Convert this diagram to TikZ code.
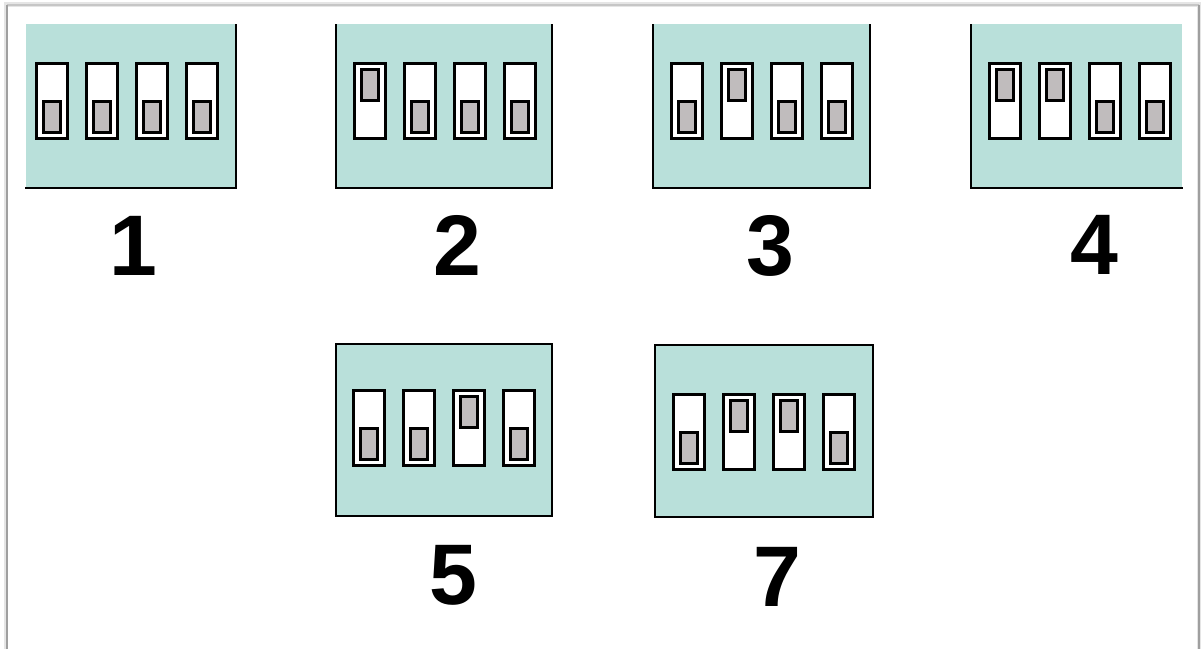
\documentclass[tikz,border=0pt]{standalone}
\usepackage{fontspec}
\setmainfont{Liberation Sans}
\definecolor{panelteal}{RGB}{185,224,218}
\definecolor{knobgray}{RGB}{192,188,189}
\newcommand\swup[2]{%
  \draw[swbody] (#1+1.6,#2+1.6) rectangle (#1+32.4,#2+76.4);
  \draw[knob] (#1+8.4,#2+7.4) rectangle (#1+25.6,#2+38.6);}
\newcommand\swdn[2]{%
  \draw[swbody] (#1+1.6,#2+1.6) rectangle (#1+32.4,#2+76.4);
  \draw[knob] (#1+8.4,#2+39.4) rectangle (#1+25.6,#2+70.6);}
\begin{document}
\begin{tikzpicture}[x=1pt,y=-1pt,
  swbody/.style={draw=black,line width=3.2pt,fill=white},
  knob/.style={draw=black,line width=2.9pt,fill=knobgray},
  panelfill/.style={fill=panelteal},
  paneledge/.style={draw=black,line width=2.7pt,line cap=rect},
  num/.style={font=\bfseries\fontsize{86}{86}\selectfont,inner sep=0pt,anchor=base},
  frameline/.style={draw=gray!75,line width=1.6pt},
  frameshadow/.style={draw=gray!20,line width=4.5pt}]
\useasboundingbox (0,0) rectangle (1201,649);
\fill[white] (0,0) rectangle (1201,649);
% outer frame
\draw[frameshadow] (6,649) -- (6,4.5) -- (1199.5,4.5) -- (1199.5,649);
\draw[frameline,draw=gray!45] (7,5) -- (1199,5);
\draw[frameline] (7,649) -- (7,5);
\draw[frameline] (1199,5) -- (1199,649);
% panel 1
\fill[panelfill] (26,24) rectangle (237,189);
\draw[paneledge] (236,25) -- (236,188) -- (26,188);
\swdn{35}{62}\swdn{85}{62}\swdn{135}{62}\swdn{185}{62}
% panel 2
\fill[panelfill] (335,24) rectangle (553,189);
\draw[paneledge] (336,25) -- (336,188) -- (552,188) -- (552,25);
\swup{353}{62}\swdn{403}{62}\swdn{453}{62}\swdn{503}{62}
% panel 3
\fill[panelfill] (652,24) rectangle (871,189);
\draw[paneledge] (653,25) -- (653,188) -- (870,188) -- (870,25);
\swdn{670}{62}\swup{720}{62}\swdn{770}{62}\swdn{820}{62}
% panel 4
\fill[panelfill] (970,24) rectangle (1182,189);
\draw[paneledge] (971,25) -- (971,188) -- (1182,188);
\swup{988}{62}\swup{1038}{62}\swdn{1088}{62}\swdn{1138}{62}
% panel 5
\fill[panelfill] (335,343) rectangle (553,517);
\draw[paneledge] (336,344) rectangle (552,516);
\swdn{352}{389}\swdn{402}{389}\swup{452}{389}\swdn{502}{389}
% panel 7
\fill[panelfill] (654,344) rectangle (874,518);
\draw[paneledge] (655,345) rectangle (873,517);
\swdn{672}{393}\swup{722}{393}\swup{772}{393}\swdn{822}{393}
% labels
\node[num] (n1) at (133,275) {1};
\node[num] (n2) at (457,275) {2};
\node[num] (n3) at (770,275) {3};
\node[num] (n4) at (1094,274) {4};
\node[num] (n5) at (453,604) {5};
\node[num] (n7) at (777,606) {7};
\end{tikzpicture}
\end{document}
